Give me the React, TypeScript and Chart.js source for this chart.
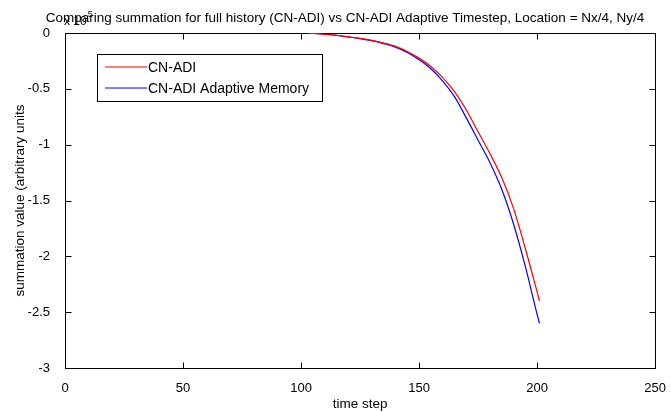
import React, { useEffect, useRef } from "react";
import { Chart, registerables } from "chart.js";

Chart.register(...registerables);

// ---- data ----
const timeSteps = [103, 105, 110, 115, 120, 125, 130, 135, 140, 145, 150, 155, 160, 165, 170, 175, 180, 185, 190, 195, 200, 201];
const cnAdi = [0, -0.003, -0.011, -0.02, -0.034, -0.048, -0.066, -0.09, -0.12, -0.165, -0.225, -0.3, -0.4, -0.525, -0.69, -0.885, -1.08, -1.295, -1.57, -1.93, -2.32, -2.4];
const cnAdiAdaptive = [0, -0.003, -0.011, -0.021, -0.035, -0.05, -0.069, -0.095, -0.127, -0.175, -0.24, -0.32, -0.43, -0.57, -0.76, -0.96, -1.16, -1.4, -1.71, -2.09, -2.52, -2.6];
const seriesLabels = ["CN-ADI", "CN-ADI Adaptive Memory"];
const seriesColors = ["#ff0000", "#0000ff"];
const xTickValues = [0, 50, 100, 150, 200, 250];
const yTickValues = [-3, -2.5, -2, -1.5, -1, -0.5, 0];
const titleText = "Comparing summation for full history (CN-ADI) vs CN-ADI Adaptive Timestep, Location = Nx/4, Ny/4";
const xLabel = "time step";
const yLabel = "summation value (arbitrary units";
const exponentBase = "x 10";
const exponentPower = "5";

const FONT = "'Liberation Sans', Arial, Helvetica, sans-serif";

const framePlugin = {
  id: "matlabFrame",
  beforeDatasetsDraw(chart: any) {
    const { ctx, chartArea: a, scales } = chart;
    ctx.save();
    ctx.strokeStyle = "#000";
    ctx.lineWidth = 1;
    const l = Math.round(a.left) + 0.5;
    const t = Math.round(a.top) + 0.5;
    const r = Math.round(a.right) + 0.5;
    const b = Math.round(a.bottom) + 0.5;
    ctx.strokeRect(l, t, r - l, b - t);
    const L = 6;
    ctx.beginPath();
    scales.x.ticks.forEach((tk: any) => {
      const px = Math.round(scales.x.getPixelForValue(tk.value)) + 0.5;
      ctx.moveTo(px, b);
      ctx.lineTo(px, b - L);
      ctx.moveTo(px, t);
      ctx.lineTo(px, t + L);
    });
    scales.y.ticks.forEach((tk: any) => {
      const py = Math.round(scales.y.getPixelForValue(tk.value)) + 0.5;
      ctx.moveTo(l, py);
      ctx.lineTo(l + L, py);
      ctx.moveTo(r, py);
      ctx.lineTo(r - L, py);
    });
    ctx.stroke();
    ctx.restore();
  },
  afterDraw(chart: any) {
    const { ctx } = chart;
    ctx.save();
    ctx.fillStyle = "#000";
    // title
    ctx.font = `13.5px ${FONT}`;
    ctx.textAlign = "center";
    ctx.textBaseline = "alphabetic";
    ctx.fillText(titleText, 345, 21.5);
    // exponent
    ctx.textAlign = "left";
    ctx.font = `12px ${FONT}`;
    ctx.fillText(exponentBase, 64, 25);
    const w = ctx.measureText(exponentBase).width;
    ctx.font = `9px ${FONT}`;
    ctx.fillText(exponentPower, 64 + w + 1, 17);
    // legend
    const bx = 97.5, by = 54.5, bw = 225, bh = 47;
    ctx.fillStyle = "#fff";
    ctx.fillRect(bx, by, bw, bh);
    ctx.strokeStyle = "#000";
    ctx.lineWidth = 1;
    ctx.strokeRect(bx, by, bw, bh);
    ctx.font = `14px ${FONT}`;
    ctx.textBaseline = "middle";
    const rows = [67, 88];
    chart.data.datasets.forEach((ds: any, i: number) => {
      ctx.strokeStyle = seriesColors[i];
      ctx.lineWidth = 1.2;
      ctx.beginPath();
      ctx.moveTo(105, rows[i]);
      ctx.lineTo(147, rows[i]);
      ctx.stroke();
      ctx.fillStyle = "#000";
      ctx.fillText(ds.label, 148, rows[i] + 1);
    });
    ctx.restore();
  },
};

export default function App() {
  const ref = useRef<HTMLCanvasElement | null>(null);
  useEffect(() => {
    if (!ref.current) return;
    const chart = new Chart(ref.current, {
      type: "line",
      data: {
        datasets: [
          {
            label: seriesLabels[0],
            data: timeSteps.map((t, i) => ({ x: t, y: cnAdi[i] })),
            borderColor: seriesColors[0],
            borderWidth: 1.2,
            pointRadius: 0,
            fill: false,
            cubicInterpolationMode: "monotone",
          },
          {
            label: seriesLabels[1],
            data: timeSteps.map((t, i) => ({ x: t, y: cnAdiAdaptive[i] })),
            borderColor: seriesColors[1],
            borderWidth: 1.2,
            pointRadius: 0,
            fill: false,
            cubicInterpolationMode: "monotone",
          },
        ],
      },
      options: {
        animation: false,
        responsive: false,
        devicePixelRatio: 1,
        layout: { padding: { left: 0, right: 12, top: 33, bottom: 0 } },
        plugins: {
          legend: { display: false },
          title: { display: false },
          tooltip: { enabled: false },
        },
        scales: {
          x: {
            type: "linear",
            min: 0,
            max: 250,
            afterBuildTicks: (s: any) => {
              s.ticks = xTickValues.map((v) => ({ value: v }));
            },
            afterFit: (s: any) => {
              s.height = 44;
            },
            grid: { display: false },
            border: { display: false },
            ticks: {
              color: "#000",
              font: { family: FONT, size: 13 },
              padding: 5,
              maxRotation: 0,
              autoSkip: false,
            },
            title: {
              display: true,
              text: xLabel,
              color: "#000",
              font: { family: FONT, size: 13.5 },
              padding: { top: 0, bottom: 0 },
            },
          },
          y: {
            type: "linear",
            min: -3,
            max: 0,
            afterBuildTicks: (s: any) => {
              s.ticks = yTickValues.map((v) => ({ value: v }));
            },
            afterFit: (s: any) => {
              s.width = 65;
            },
            grid: { display: false },
            border: { display: false },
            ticks: {
              color: "#000",
              font: { family: FONT, size: 13 },
              padding: 7,
              autoSkip: false,
              callback: (v: any) => String(v),
            },
            title: {
              display: true,
              text: yLabel,
              color: "#000",
              font: { family: FONT, size: 13.5 },
              padding: { top: 12, bottom: 0 },
            },
          },
        },
      },
      plugins: [framePlugin],
    });
    return () => chart.destroy();
  }, []);
  return (
    <div style={{ position: "fixed", left: 0, top: 0, width: 671, height: 412, background: "#fff" }}>
      <canvas ref={ref} width={671} height={412} style={{ display: "block" }} />
    </div>
  );
}
